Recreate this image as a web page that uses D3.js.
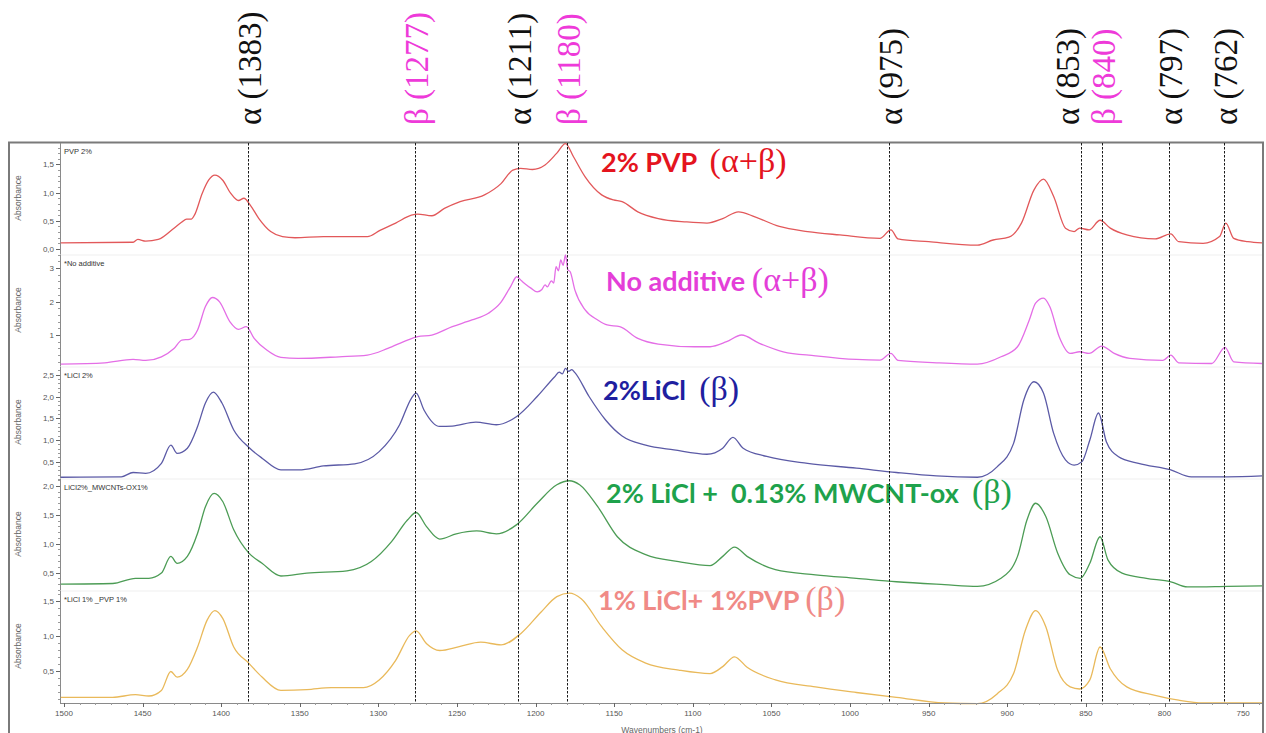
<!DOCTYPE html>
<html>
<head>
<meta charset="utf-8">
<script src="https://cdn.jsdelivr.net/npm/d3@7"></script>
<style>
  body { margin: 0; background: #fff; }
  svg { display: block; }
  text { white-space: pre; }
</style>
</head>
<body>
<svg id="chart" width="1266" height="733"></svg>
<script>
// FTIR absorbance spectra of PVDF membranes, [wavenumber cm-1, absorbance]
const pvp2 = [[1502,0.11],[1456,0.12],[1453,0.17],[1448,0.14],[1440,0.17],[1430,0.37],[1425,0.48],[1422,0.53],[1419,0.53],[1417,0.60],[1412,0.99],[1408,1.22],[1404,1.31],[1399,1.22],[1394,0.99],[1389,0.86],[1385.5,0.90],[1381.5,0.78],[1376,0.54],[1368.5,0.31],[1361,0.22],[1353,0.20],[1335,0.22],[1307,0.22],[1299,0.33],[1289,0.46],[1279,0.60],[1275,0.62],[1266,0.59],[1258,0.72],[1248,0.84],[1232.5,0.96],[1222,1.16],[1214.5,1.40],[1209.5,1.43],[1202,1.41],[1194,1.49],[1186.5,1.70],[1181,1.87],[1176,1.64],[1168.5,1.28],[1158,0.96],[1150.5,0.87],[1145,0.84],[1135,0.66],[1122,0.54],[1104,0.48],[1091,0.46],[1081,0.54],[1071,0.66],[1060.5,0.57],[1045,0.40],[1027,0.31],[1006.5,0.25],[981,0.19],[974,0.34],[969.5,0.18],[950,0.13],[919,0.07],[909,0.16],[899,0.21],[891,0.46],[883,1.05],[877,1.24],[870.5,0.93],[863,0.37],[857.5,0.31],[854,0.37],[848,0.34],[841,0.51],[834.5,0.37],[824,0.25],[806,0.18],[796,0.27],[791,0.13],[775.5,0.10],[765,0.22],[761,0.46],[756,0.19],[747,0.13],[738,0.11]];

const noAdditive = [[1502,0.13],[1474,0.17],[1456,0.27],[1448,0.24],[1438,0.35],[1430,0.60],[1425,0.85],[1420,0.87],[1415,1.15],[1410,1.85],[1405.5,2.12],[1401,1.99],[1394.5,1.40],[1389,1.17],[1384,1.25],[1379,0.90],[1371,0.55],[1362,0.33],[1351,0.30],[1325,0.35],[1307,0.40],[1294,0.60],[1281.5,0.85],[1275,0.95],[1266,1.00],[1253,1.25],[1240.5,1.45],[1230,1.65],[1222.5,1.95],[1216,2.44],[1212,2.74],[1209,2.62],[1207,2.54],[1203,2.40],[1199,2.29],[1196,2.36],[1194,2.50],[1192.5,2.44],[1190,2.62],[1188.5,2.55],[1187,3.04],[1185.5,2.92],[1184,3.24],[1182.5,3.08],[1181,3.39],[1179.5,2.95],[1178,2.89],[1175,2.34],[1168.5,1.75],[1160.5,1.45],[1154.5,1.30],[1146.5,1.25],[1135,0.90],[1122,0.73],[1099,0.65],[1089,0.65],[1078.5,0.80],[1069,1.00],[1058,0.76],[1042.5,0.50],[1022,0.38],[996,0.27],[981,0.25],[974,0.45],[969.5,0.24],[945,0.17],[919,0.13],[904,0.35],[893.5,0.65],[886,1.45],[882,1.95],[877,2.10],[873,1.85],[867,0.95],[860,0.45],[854,0.50],[848,0.45],[840,0.67],[832,0.45],[822,0.30],[801,0.24],[796,0.40],[791,0.17],[770,0.15],[761.5,0.63],[756,0.20],[738,0.15]];

const licl2 = [[1502,0.14],[1463.5,0.15],[1456,0.25],[1448,0.23],[1438,0.46],[1432,0.88],[1428,0.69],[1421.5,0.81],[1415,1.31],[1410,1.85],[1405,2.10],[1399.5,1.85],[1392,1.23],[1382.5,0.83],[1374,0.58],[1362,0.31],[1350.5,0.31],[1335,0.40],[1315,0.45],[1299.5,0.73],[1286.5,1.35],[1279,1.96],[1276,2.08],[1271,1.69],[1261,1.31],[1253,1.32],[1238,1.41],[1225,1.35],[1212,1.54],[1199,2.00],[1188,2.45],[1185,2.56],[1183,2.52],[1181,2.65],[1179,2.58],[1177,2.62],[1175,2.55],[1166,2.00],[1155.5,1.46],[1145,1.09],[1130,0.88],[1112,0.77],[1091,0.67],[1081,0.81],[1074.5,1.06],[1068,0.81],[1053,0.62],[1027,0.46],[996,0.35],[970.5,0.25],[945,0.17],[919,0.14],[906.5,0.38],[896,0.92],[889.5,1.92],[883,2.34],[877,2.08],[870.5,1.15],[863,0.54],[857.5,0.42],[852.5,0.50],[847.5,1.00],[842,1.62],[837,0.96],[829.5,0.62],[816.5,0.46],[796,0.31],[783,0.15],[760,0.15],[738,0.17]];

const liclMwcnt = [[1502,0.30],[1469,0.31],[1454.5,0.40],[1446,0.40],[1438,0.49],[1432,0.78],[1428,0.66],[1421.5,0.78],[1415,1.18],[1410,1.64],[1404.5,1.87],[1399,1.73],[1392,1.24],[1382.5,0.84],[1374,0.66],[1362,0.44],[1345.5,0.49],[1320,0.53],[1304.5,0.69],[1291.5,1.04],[1281.5,1.41],[1276,1.54],[1269.5,1.30],[1261,1.08],[1250.5,1.17],[1237.5,1.22],[1225,1.17],[1212,1.33],[1199,1.70],[1186.5,2.02],[1178.5,2.09],[1172,2.02],[1160.5,1.64],[1148,1.12],[1130,0.81],[1109,0.69],[1089,0.62],[1081,0.78],[1073.5,0.94],[1065.5,0.78],[1047.5,0.55],[1022,0.46],[996,0.40],[970.5,0.34],[940,0.29],[919,0.26],[904,0.40],[893.5,0.78],[887.5,1.41],[882,1.70],[875.5,1.47],[868,0.84],[860,0.46],[853.5,0.40],[847.5,0.66],[841,1.12],[836,0.72],[827,0.49],[811.5,0.40],[796,0.34],[785.5,0.25],[760,0.26],[738,0.27]];

const liclPvp = [[1502,0.12],[1469,0.12],[1454.5,0.16],[1446,0.14],[1438,0.22],[1432,0.49],[1428,0.41],[1421.5,0.52],[1415,0.84],[1409,1.22],[1404,1.36],[1399,1.25],[1392,0.84],[1382.5,0.61],[1374,0.41],[1362,0.22],[1345.5,0.23],[1330,0.26],[1309.5,0.26],[1299.5,0.37],[1289,0.65],[1280,1.01],[1276,1.07],[1269.5,0.89],[1261,0.79],[1248,0.85],[1235,0.91],[1222,0.87],[1209.5,1.03],[1196.5,1.34],[1186.5,1.56],[1178.5,1.61],[1171,1.53],[1158,1.13],[1145,0.80],[1130,0.61],[1109,0.51],[1089,0.46],[1081,0.56],[1073.5,0.70],[1065.5,0.55],[1047.5,0.37],[1022,0.27],[996,0.19],[970.5,0.12],[940,0.04],[919,0.03],[906.5,0.17],[896,0.46],[888.5,1.08],[882,1.36],[875.5,1.13],[868,0.51],[860,0.27],[854,0.24],[847.5,0.37],[841,0.84],[834.5,0.53],[824,0.27],[806,0.15],[791,0.08],[775.5,0.04],[738,0.04]];

// sample file names and figure captions per panel
const sampleNames = ["PVP 2%", "*No additive", "*LiCl 2%", "LiCl2%_MWCNTs-OX1%", "*LiCl 1% _PVP 1%"];
const captionText = ["2% PVP  ", "No additive ", "2%LiCl  ", "2% LiCl +  0.13% MWCNT-ox  ", "1% LiCl+ 1%PVP "];
const captionPhase = ["(α+β)", "(α+β)", "(β)", "(β)", "(β)"];

// y tick values per panel
const yTicks = [[0, 0.5, 1.0, 1.5], [1, 2, 3], [0.5, 1.0, 1.5, 2.0, 2.5], [0.5, 1.0, 1.5, 2.0], [0.5, 1.0, 1.5]];
const xTicks = [1500, 1450, 1400, 1350, 1300, 1250, 1200, 1150, 1100, 1050, 1000, 950, 900, 850, 800, 750];

// characteristic band assignments
const bandWavenumbers = [1383, 1277, 1211, 1180, 975, 853, 840, 797, 762];
const bandPhases = ["α", "β", "α", "β", "α", "α", "β", "α", "α"];

// ---------- drawing ----------
const svg = d3.select("#chart");
const plotLeft = 60, plotRight = 1262, plotTop = 143, plotBottom = 703;
const panelH = (plotBottom - plotTop) / 5;

const x = d3.scaleLinear().domain([1502.5, 738]).range([plotLeft, plotRight]);

const series = [pvp2, noAdditive, licl2, liclMwcnt, liclPvp];
const lineColors = ["#e2585a", "#e46ee6", "#5b5aa6", "#4c9c55", "#e9b95a"];
const captionColors = ["#e4141e", "#e43ed8", "#1f1fa0", "#1ea24c", "#f08a86"];
const yDomains = [[-0.106, 1.88], [0.045, 3.39], [0.10, 2.68], [0.18, 2.12], [0.04, 1.64]];
const minorSteps = [0.1, 0.2, 0.1, 0.1, 0.1];
const captionPos = [[601, 29], [606, 36], [603, 33], [606, 24], [598, 19]];
const commaFmt = v => d3.format(".1f")(v).replace(".", ",");

// outer frame
svg.append("rect").attr("x", 9).attr("y", plotTop - 0.5).attr("width", 1254).attr("height", 620)
  .attr("fill", "none").attr("stroke", "#7a7a7a").attr("stroke-width", 2);

series.forEach((data, i) => {
  const top = plotTop + i * panelH;
  const y = d3.scaleLinear().domain(yDomains[i]).range([top + panelH, top]);
  const g = svg.append("g");

  if (i > 0) {
    g.append("line").attr("x1", plotLeft).attr("x2", plotRight).attr("y1", top).attr("y2", top)
      .attr("stroke", "#efefef").attr("stroke-width", 1);
  }

  // axis line
  g.append("line").attr("x1", plotLeft + 0.5).attr("x2", plotLeft + 0.5)
    .attr("y1", top).attr("y2", top + panelH).attr("stroke", "#8a8a8a").attr("stroke-width", 1);

  // minor ticks
  const [d0, d1] = yDomains[i];
  const st = minorSteps[i];
  const minors = d3.range(Math.ceil(d0 / st) * st, d1, st);
  g.selectAll(".minor").data(minors).join("line")
    .attr("x1", plotLeft - 2).attr("x2", plotLeft)
    .attr("y1", d => Math.round(y(d)) + 0.5).attr("y2", d => Math.round(y(d)) + 0.5)
    .attr("stroke", "#9a9a9a").attr("stroke-width", 1);

  // major ticks and labels
  g.selectAll(".major").data(yTicks[i]).join("line")
    .attr("x1", plotLeft - 4).attr("x2", plotLeft)
    .attr("y1", d => Math.round(y(d)) + 0.5).attr("y2", d => Math.round(y(d)) + 0.5)
    .attr("stroke", "#666").attr("stroke-width", 1);
  g.selectAll(".tl").data(yTicks[i]).join("text")
    .attr("x", plotLeft - 6).attr("y", d => y(d) + 3)
    .attr("text-anchor", "end").attr("font-family", "Liberation Sans, Arial, sans-serif")
    .attr("font-size", 8).attr("fill", "#555")
    .text(d => i === 1 ? d3.format("d")(d) : commaFmt(d));

  g.append("text")
    .attr("transform", `translate(21,${top + panelH / 2 - 1}) rotate(-90)`)
    .attr("text-anchor", "middle").attr("font-family", "Liberation Sans, Arial, sans-serif")
    .attr("font-size", 8.5).attr("fill", "#666").text("Absorbance");

  g.append("text").attr("x", plotLeft + 4).attr("y", top + 11)
    .attr("font-family", "Liberation Sans, Arial, sans-serif").attr("font-size", 7.5)
    .attr("fill", "#333").text(sampleNames[i]);

  // spectrum
  g.append("path").datum(data)
    .attr("d", d3.line().x(d => x(d[0])).y(d => y(d[1])).curve(d3.curveMonotoneX))
    .attr("fill", "none").attr("stroke", lineColors[i]).attr("stroke-width", 1.3)
    .attr("stroke-linejoin", "round");

  // caption
  const cap = svg.append("text").attr("x", captionPos[i][0]).attr("y", top + captionPos[i][1])
    .attr("fill", captionColors[i]).attr("font-size", 27);
  cap.append("tspan").attr("font-family", "Lato, 'Open Sans', sans-serif").attr("font-weight", 700)
    .text(captionText[i]);
  cap.append("tspan").attr("font-family", "'Liberation Serif', 'DejaVu Serif', serif").attr("font-weight", 400)
    .attr("font-size", 34).text(captionPhase[i]);
});

// x axis
const xa = svg.append("g");
xa.append("line").attr("x1", plotLeft).attr("x2", plotRight).attr("y1", plotBottom + 0.5).attr("y2", plotBottom + 0.5)
  .attr("stroke", "#8a8a8a");
const xMinor = d3.range(1500, 737, -10);
xa.selectAll(".xm").data(xMinor).join("line")
  .attr("x1", d => Math.round(x(d)) + 0.5).attr("x2", d => Math.round(x(d)) + 0.5)
  .attr("y1", plotBottom).attr("y2", plotBottom + 2).attr("stroke", "#9a9a9a");
xa.selectAll(".xM").data(xTicks).join("line")
  .attr("x1", d => Math.round(x(d)) + 0.5).attr("x2", d => Math.round(x(d)) + 0.5)
  .attr("y1", plotBottom).attr("y2", plotBottom + 4).attr("stroke", "#666");
xa.selectAll(".xl").data(xTicks).join("text")
  .attr("x", d => x(d)).attr("y", plotBottom + 13).attr("text-anchor", "middle")
  .attr("font-family", "Liberation Sans, Arial, sans-serif").attr("font-size", 8).attr("fill", "#555")
  .text(d => d);
xa.append("text").attr("x", 662).attr("y", 732.5).attr("text-anchor", "middle")
  .attr("font-family", "Liberation Sans, Arial, sans-serif").attr("font-size", 8.5).attr("fill", "#666")
  .text("Wavenumbers (cm-1)");

// band markers
svg.selectAll(".band").data(bandWavenumbers).join("line")
  .attr("x1", d => Math.round(x(d)) + 0.5).attr("x2", d => Math.round(x(d)) + 0.5)
  .attr("y1", plotTop).attr("y2", plotBottom)
  .attr("stroke", "#1a1a1a").attr("stroke-width", 1).attr("stroke-dasharray", "2.5,1.5");

// band labels: place near their marker, pushing a label leftwards when it
// would collide with its right-hand neighbour
const minGap = 36;
const labelX = bandWavenumbers.map(d => x(d) + 3);
for (let i = labelX.length - 2; i >= 0; i--) {
  if (labelX[i + 1] - labelX[i] < minGap) labelX[i] = labelX[i + 1] - minGap;
}
svg.selectAll(".bandLabel").data(bandWavenumbers).join("text")
  .attr("transform", (d, i) => `translate(${labelX[i] + 10},125) rotate(-90)`)
  .attr("font-family", "'Liberation Serif', 'DejaVu Serif', serif").attr("font-size", 33)
  .attr("fill", (d, i) => bandPhases[i] === "β" ? "#ee3ad9" : "#111")
  .text((d, i) => `${bandPhases[i]} (${d})`);
</script>
</body>
</html>
